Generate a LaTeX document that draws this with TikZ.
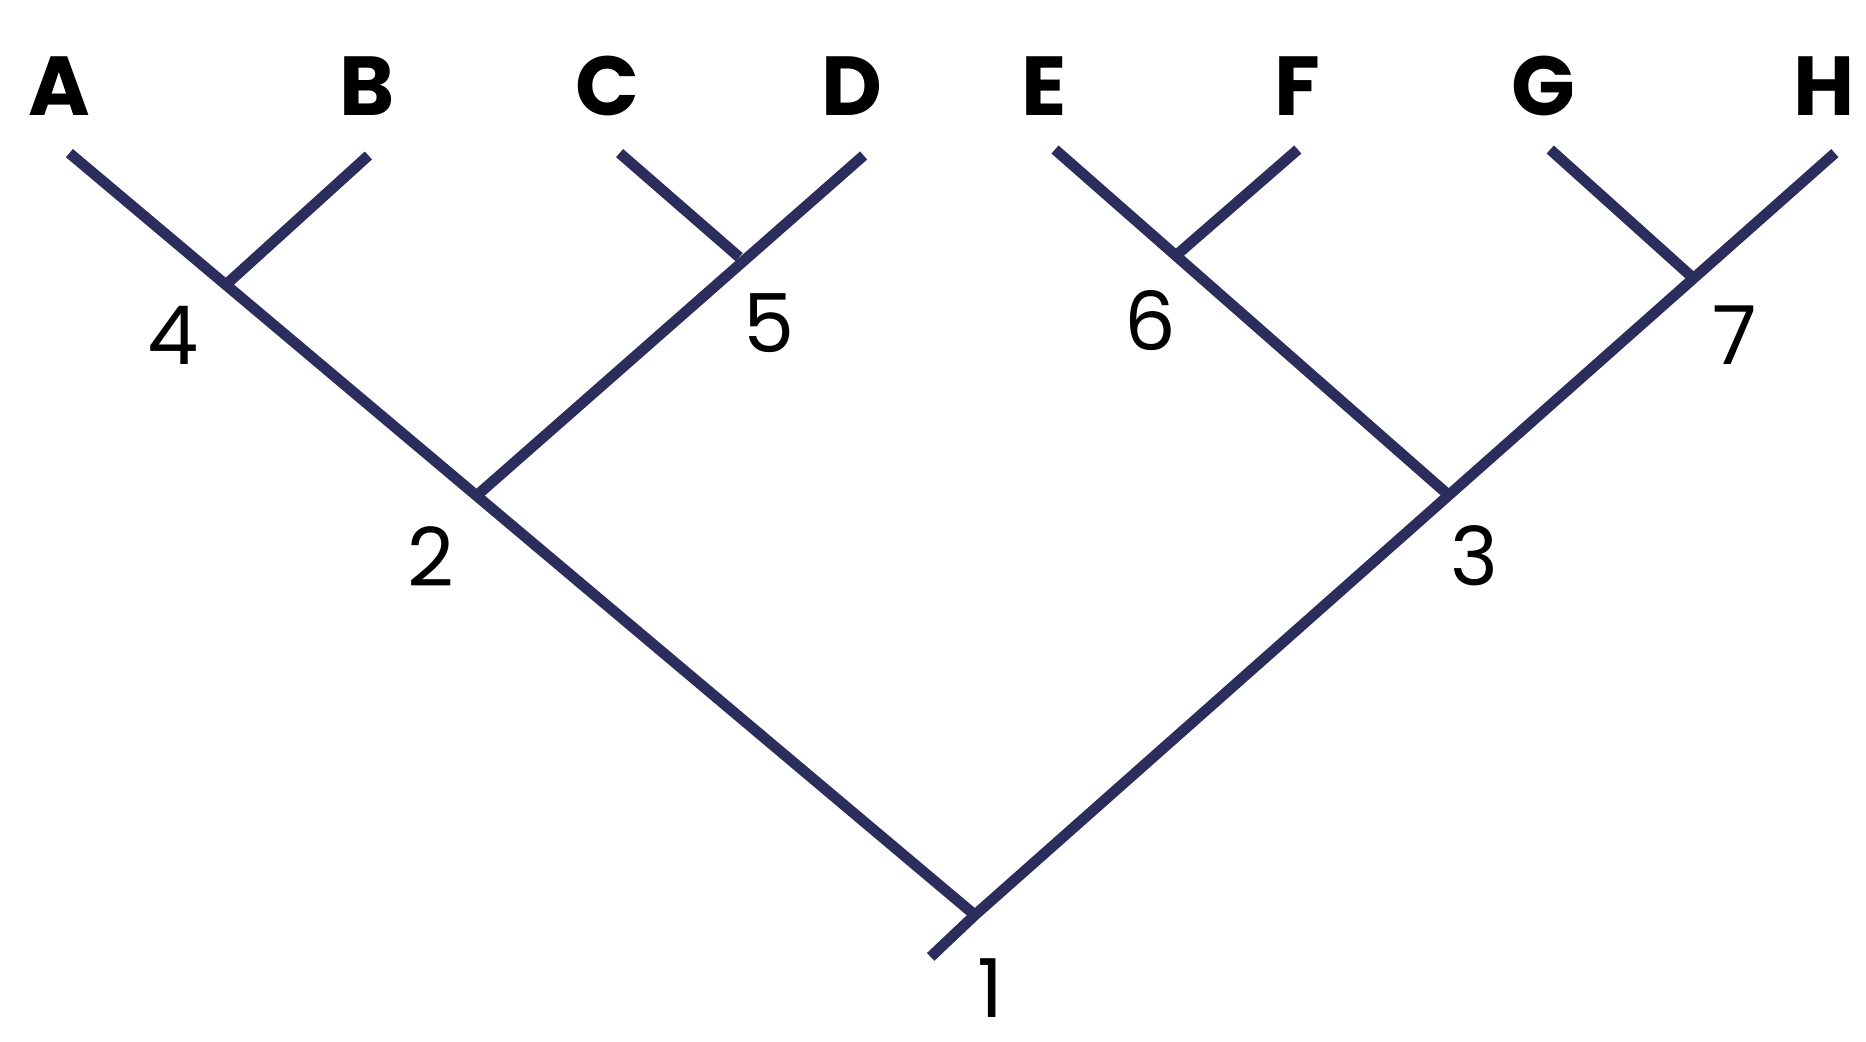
\documentclass[tikz,border=0pt]{standalone}
\usepackage{fontspec}
\setmainfont{Poppins}
\definecolor{navy}{HTML}{2B2D5C}
\begin{document}
\begin{tikzpicture}[x=0.5pt,y=-0.5pt,
  br/.style={draw=navy,line width=4.5pt},
  leaf/.style={font=\fontsize{35}{35}\selectfont\bfseries},
  num/.style={font=\fontsize{34}{34}\selectfont}]
\useasboundingbox (0,0) rectangle (1560,871);
\coordinate (a) at (58,128); \coordinate (b) at (308,130);
\coordinate (c) at (518,128); \coordinate (d) at (722,130);
\coordinate (e) at (882,125); \coordinate (f) at (1085,125);
\coordinate (g) at (1296,125); \coordinate (h) at (1534,128);
\coordinate (n4) at (190,237); \coordinate (n5) at (618,215);
\coordinate (n6) at (985,212); \coordinate (n7) at (1415,232);
\coordinate (n2) at (400,413); \coordinate (n3) at (1210,413);
\coordinate (n1) at (815,765); \coordinate (root) at (778,800);
\draw[br] (a) -- (n1); \draw[br] (h) -- (n1) -- (root);
\draw[br] (b) -- (n4); \draw[br] (d) -- (n2); \draw[br] (c) -- (n5);
\draw[br] (e) -- (n3); \draw[br] (f) -- (n6); \draw[br] (g) -- (n7);
\node[leaf] (la) at (50,72) {A}; \node[leaf] (lb) at (307,72) {B};
\node[leaf] (lc) at (508,72) {C}; \node[leaf] (ld) at (712,72) {D};
\node[leaf] (le) at (873,72) {E}; \node[leaf] (lf) at (1085,72) {F};
\node[leaf] (lg) at (1290,72) {G}; \node[leaf] (lh) at (1525,72) {H};
\node[num] (t4) at (145,280) {4}; \node[num] (t5) at (643,270) {5};
\node[num] (t6) at (962,268) {6}; \node[num] (t7) at (1450,280) {7};
\node[num] (t2) at (360,465) {2}; \node[num] (t3) at (1233,465) {3};
\node[num] (t1) at (828,826) {1};
\end{tikzpicture}
\end{document}
